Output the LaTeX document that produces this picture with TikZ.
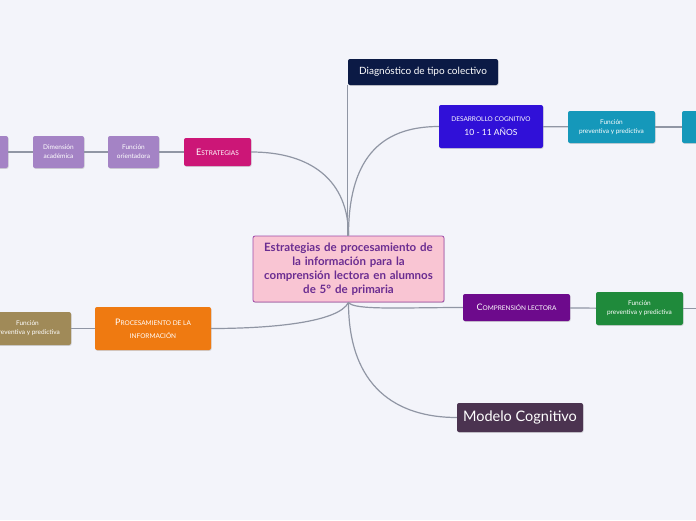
\documentclass[tikz,border=0pt]{standalone}
\usepackage{fontspec}
\setmainfont{Lato}
\usetikzlibrary{shadows}

\definecolor{fondo}{HTML}{F3F4FA}
\definecolor{linea}{HTML}{9096A4}
\definecolor{rosa}{HTML}{F9C5D3}
\definecolor{borderosa}{HTML}{A04AA8}
\definecolor{textorosa}{HTML}{6A2C91}
\definecolor{marino}{HTML}{0B1A45}
\definecolor{azulvio}{HTML}{3010D8}
\definecolor{turquesa}{HTML}{1598BA}
\definecolor{magenta}{HTML}{CC1677}
\definecolor{lavanda}{HTML}{A483C5}
\definecolor{naranja}{HTML}{EF7A11}
\definecolor{pardo}{HTML}{A08A58}
\definecolor{morado}{HTML}{6D0A8C}
\definecolor{verde}{HTML}{1F8A3B}
\definecolor{ciruela}{HTML}{4B3350}

% versalitas hechas a mano
\newcommand{\versal}[2]{{\fontsize{9}{10}\selectfont #1}{\fontsize{6.5}{8}\selectfont #2}}
\newcommand{\chico}{\fontsize{6.5}{9}\selectfont}

\tikzset{
  caja/.style={rectangle, rounded corners=2pt, text=white, align=center, inner sep=1pt,
    drop shadow={opacity=0.3, shadow xshift=0.6pt, shadow yshift=-0.8pt}},
  hoja/.style={caja, minimum width=87pt, minimum height=32pt, font=\chico},
  rama/.style={draw=linea, line width=1.2pt},
}

\begin{document}
\begin{tikzpicture}[x=1pt, y=-1pt]

	\fill[fondo] (0,0) rectangle (696,520);
	\useasboundingbox (0,0) rectangle (696,520);

	% Nodos
	\node[caja, fill=rosa, draw=borderosa, line width=0.8pt, text=textorosa, minimum width=191pt, minimum height=66pt,
		text width=185pt, font=\fontsize{11.5}{14}\selectfont\bfseries]
		(centro) at (348.5,269) {Estrategias de procesamiento de\\la información para la\\comprensión lectora en alumnos\\de 5° de primaria};

	\node[caja, fill=marino, minimum width=150pt, minimum height=26pt, font=\fontsize{10}{12}\selectfont] (diag) at (423,72)
		{Diagnóstico de tipo colectivo};

	\node[caja, fill=azulvio, minimum width=104pt, minimum height=43pt] (desarrollo) at (491,126.5)
		{{\fontsize{6.5}{8}\selectfont DESARROLLO COGNITIVO}\\[2pt]{\fontsize{8.5}{10}\selectfont 10 - 11 AÑOS}};
	\node[hoja, fill=turquesa] (funcion1) at (611.5,127) {Función\\preventiva y predictiva};
	\node[hoja, fill=turquesa] (dim1) at (725.5,127) {Dimensión\\preventiva};

	\node[caja, fill=magenta, minimum width=67pt, minimum height=28pt] (estrategias) at (217.5,152)
		{\versal{E}{STRATEGIAS}};
	\node[hoja, fill=lavanda, minimum width=51pt] (orientadora) at (133.5,152) {Función\\orientadora};
	\node[hoja, fill=lavanda, minimum width=51pt] (academica) at (58.5,152) {Dimensión\\académica};
	\node[hoja, fill=lavanda, minimum width=51pt] (corte) at (-17.5,152) {};

	\node[caja, fill=naranja, minimum width=116pt, minimum height=43pt] (procesa) at (153,328.5)
		{\versal{P}{ROCESAMIENTO DE LA}\\[1pt]{\fontsize{6.5}{8}\selectfont INFORMACIÓN}};
	\node[hoja, fill=pardo, minimum height=33pt] (funcion2) at (27.5,328.5) {Función\\preventiva y predictiva};

	\node[caja, fill=morado, minimum width=107pt, minimum height=27pt] (comprension) at (516.5,307.5)
		{\versal{C}{OMPRENSIÓN LECTORA}};
	\node[hoja, fill=verde, minimum height=33pt] (funcion3) at (639.5,308.5) {Función\\preventiva y predictiva};
	\coordinate (fuera) at (720,308.5);

	\node[caja, fill=ciruela, minimum width=126pt, minimum height=29pt, font=\fontsize{14.5}{16}\selectfont] (modelo) at (520,417.5)
		{Modelo Cognitivo};

	% Ramas
	\draw[rama] (centro.north -| diag.south west) -- (diag.south west);
	\draw[rama] (centro.north) .. controls +(0,-75) and +(-60,0) .. (desarrollo.west);
	\draw[rama] (centro.north) .. controls +(0,-55) and +(60,0) .. (estrategias.east);
	\draw[rama] (centro.south) .. controls +(-10,20) and +(60,0) .. (procesa.east);
	\draw[rama] (centro.south) .. controls +(5,8) and +(-60,0) .. (comprension.west);
	\draw[rama] (centro.south) .. controls +(0,85) and +(-60,0) .. (modelo.west);

	\draw[rama] (desarrollo) -- (funcion1);
	\draw[rama] (funcion1) -- (dim1);
	\draw[rama] (estrategias) -- (orientadora);
	\draw[rama] (orientadora) -- (academica);
	\draw[rama] (academica) -- (corte);
	\draw[rama] (procesa) -- (funcion2);
	\draw[rama] (comprension) -- (funcion3);
	\draw[rama] (funcion3) -- (fuera);

\end{tikzpicture}
\end{document}
